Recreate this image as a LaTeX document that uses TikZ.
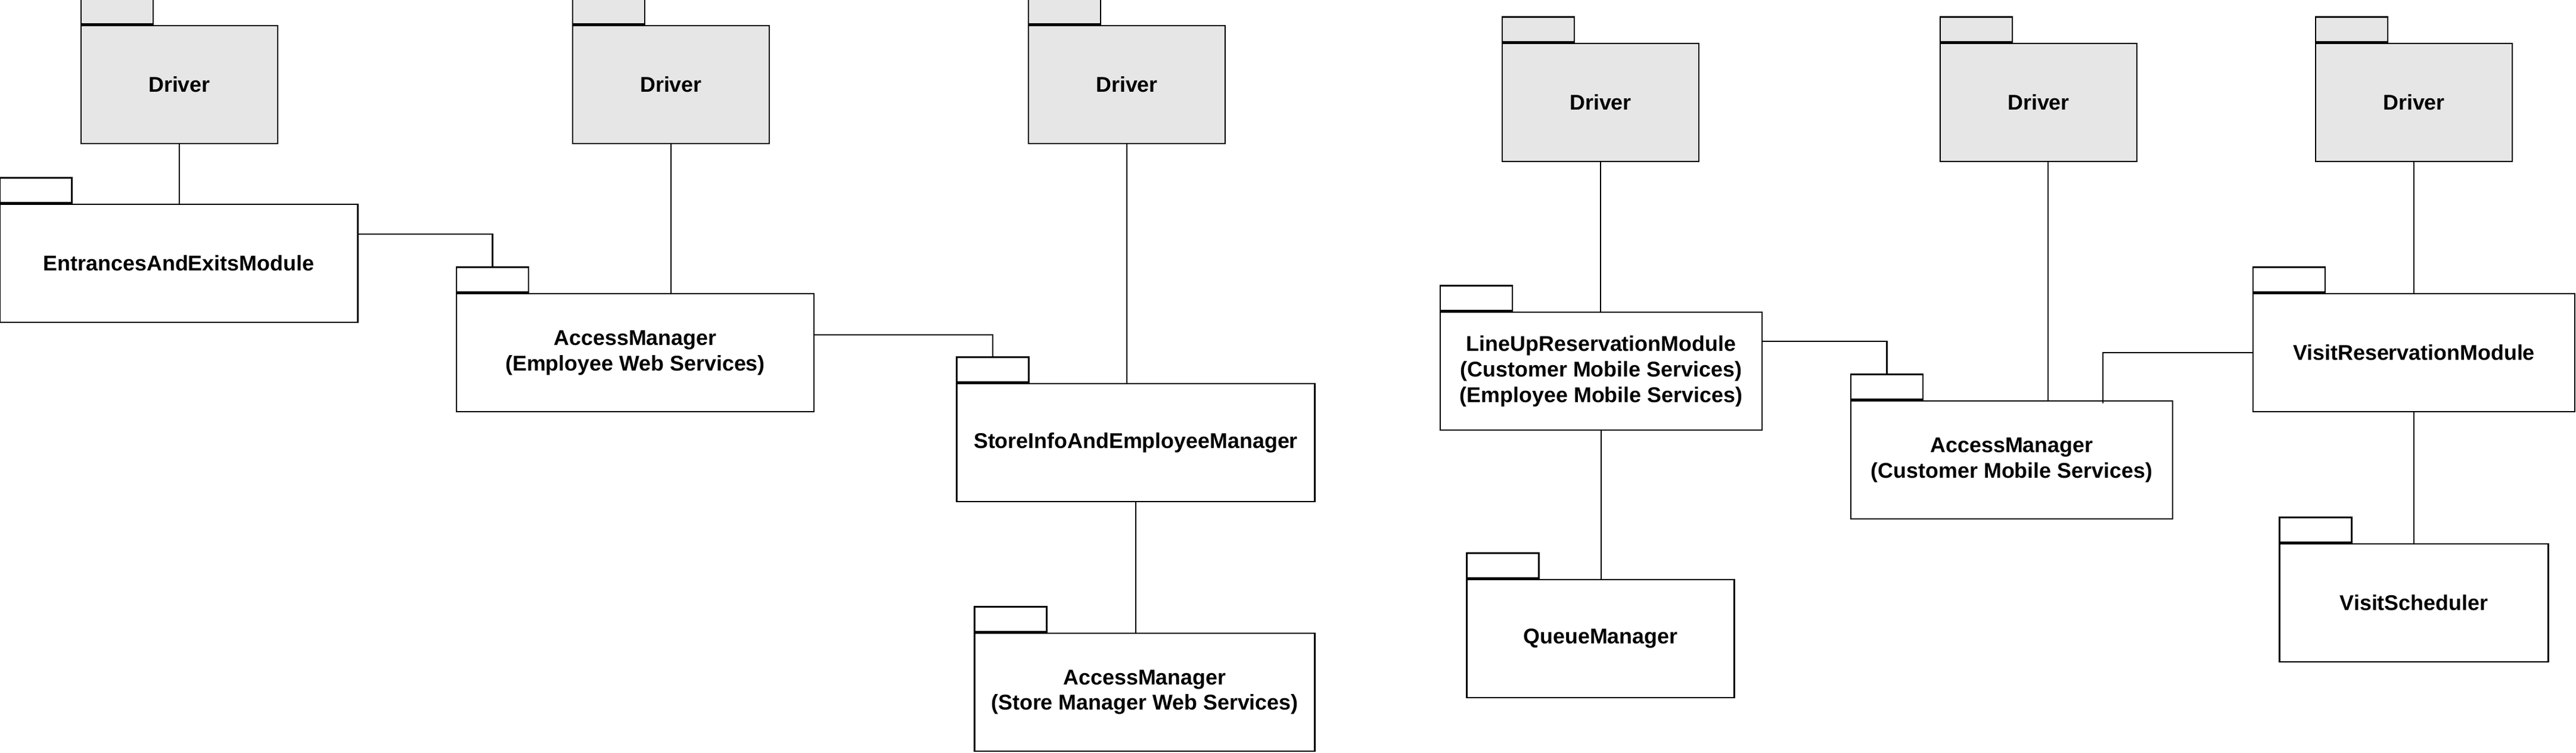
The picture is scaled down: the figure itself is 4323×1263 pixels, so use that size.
\documentclass[tikz,border=0pt]{standalone}
\usepackage{fontspec}
\setmainfont{Liberation Sans}
\usepackage{tikz}
\definecolor{drivergray}{HTML}{E6E6E6}
\tikzset{
  pkg/.style={draw, line width=0.8pt, minimum height=19.8mm, inner sep=0pt,
    align=center, font=\fontsize{10.2}{12.2}\selectfont\bfseries},
  drv/.style={pkg, fill=drivergray, minimum width=33mm},
  pkgtab/.style={draw, line width=0.8pt, minimum width=12.1mm,
    minimum height=4.2mm, inner sep=0pt, anchor=south west},
  link/.style={line width=0.8pt},
}

\begin{document}
\begin{tikzpicture}[x=0.1mm, y=-0.1mm]
        \useasboundingbox (0,0) rectangle (4323,1263);
        % Drivers
        \node[drv] (drvA) at (301,142) {Driver};
        \node[drv] (drvB) at (1126,142) {Driver};
        \node[drv] (drvC) at (1891,142) {Driver};
        \node[drv] (drvD) at (2686,172) {Driver};
        \node[drv] (drvE) at (3421,172) {Driver};
        \node[drv] (drvF) at (4051,172) {Driver};
        % Employee / store manager side
        \node[pkg, minimum width=60.1mm] (eaem) at (300,442) {EntrancesAndExitsModule};
        \node[pkg, minimum width=60mm] (ame) at (1066,592) {AccessManager\\(Employee Web Services)};
        \node[pkg, minimum width=60.1mm] (siem) at (1906,743) {StoreInfoAndEmployeeManager};
        \node[pkg, minimum width=57.1mm] (amsm) at (1921,1162) {AccessManager\\(Store Manager Web Services)};
        % Customer side
        \node[pkg, minimum width=54mm] (lurm) at (2687,623) {LineUpReservationModule\\(Customer Mobile Services)\\(Employee Mobile Services)};
        \node[pkg, minimum width=44.9mm] (qm) at (2686,1072) {QueueManager};
        \node[pkg, minimum width=54mm] (amc) at (3376,772) {AccessManager\\(Customer Mobile Services)};
        \node[pkg, minimum width=54mm] (vrm) at (4051,592) {VisitReservationModule};
        \node[pkg, minimum width=45.1mm] (vs) at (4051,1012) {VisitScheduler};
        % Package tabs
        \foreach \n in {eaem, ame, siem, amsm, lurm, qm, amc, vrm, vs}
          \node[pkgtab] (\n-tab) at (\n.north west) {};
        \foreach \n in {drvA, drvB, drvC, drvD, drvE, drvF}
          \node[pkgtab, fill=drivergray] (\n-tab) at (\n.north west) {};
        %
        % Driver links
        \draw[link] (drvA.south) -- (drvA.south |- eaem.north);
        \draw[link] (drvB.south) -- (drvB.south |- ame.north);
        \draw[link] (drvC.south) -- (drvC.south |- siem.north);
        \draw[link] (drvD.south) -- (drvD.south |- lurm.north);
        \draw[link] ([xshift=1.6mm]drvE.south) -- ([xshift=1.6mm]drvE.south |- amc.north);
        \draw[link] (drvF.south) -- (drvF.south |- vrm.north);
        % Package links
        \draw[link] ([yshift=4.9mm]eaem.east) -| (ame-tab.north);
        \draw[link] ([yshift=3mm]ame.east) -| (siem-tab.north);
        \draw[link] (siem.south) -- (siem.south |- amsm.north);
        \draw[link] ([yshift=5mm]lurm.east) -| (amc-tab.north);
        \draw[link] (lurm.south) -- (lurm.south |- qm.north);
        \coordinate (amc-in) at ([xshift=15.3mm, yshift=-0.5mm]amc.north);
        \draw[link] (vrm.west) -| (amc-in);
        \draw[link] (vrm.south) -- (vrm.south |- vs.north);
\end{tikzpicture}
\end{document}
